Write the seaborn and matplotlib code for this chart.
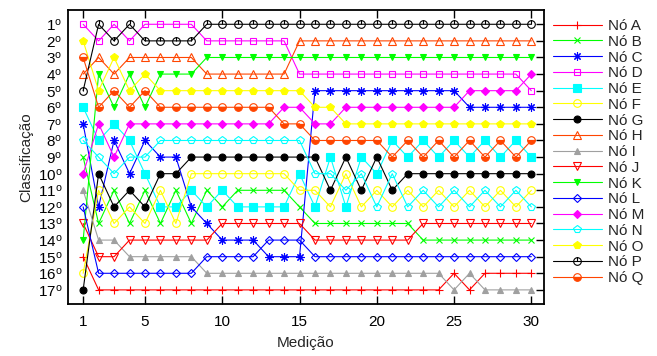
import matplotlib
matplotlib.use('Agg')
import matplotlib.pyplot as plt
from matplotlib.path import Path
import seaborn as sns

# ranking of each node at every measurement (1 = best)
medicao = list(range(1, 31))
no_a = [15, 17, 17, 17, 17, 17, 17, 17, 17, 17, 17, 17, 17, 17, 17, 17, 17, 17, 17, 17, 17, 17, 17, 17, 16, 17, 16, 16, 16, 16]
no_b = [9, 13, 11, 13, 11, 13, 11, 13, 11, 12, 11, 11, 11, 11, 12, 13, 13, 13, 13, 13, 13, 13, 14, 14, 14, 14, 14, 14, 14, 14]
no_c = [7, 12, 8, 10, 8, 9, 9, 12, 13, 14, 14, 14, 15, 15, 15, 5, 5, 5, 5, 5, 5, 5, 5, 5, 5, 6, 6, 6, 6, 6]
no_d = [1, 2, 1, 2, 1, 1, 1, 1, 2, 2, 2, 2, 2, 2, 4, 4, 4, 4, 4, 4, 4, 4, 4, 4, 4, 4, 4, 4, 4, 5]
no_e = [6, 8, 7, 8, 10, 12, 12, 11, 12, 11, 12, 12, 12, 12, 10, 12, 9, 12, 9, 10, 8, 9, 8, 9, 8, 9, 8, 9, 8, 9]
no_f = [16, 11, 13, 12, 13, 11, 13, 10, 10, 10, 10, 10, 10, 10, 11, 11, 12, 10, 12, 11, 12, 11, 12, 11, 12, 11, 12, 11, 12, 11]
no_g = [17, 10, 12, 11, 12, 10, 10, 9, 9, 9, 9, 9, 9, 9, 9, 9, 11, 9, 11, 9, 11, 10, 10, 10, 10, 10, 10, 10, 10, 10]
no_h = [4, 3, 4, 3, 3, 3, 3, 3, 4, 4, 4, 4, 4, 4, 2, 2, 2, 2, 2, 2, 2, 2, 2, 2, 2, 2, 2, 2, 2, 2]
no_i = [11, 14, 14, 15, 15, 15, 15, 15, 16, 16, 16, 16, 16, 16, 16, 16, 16, 16, 16, 16, 16, 16, 16, 16, 17, 16, 17, 17, 17, 17]
no_j = [13, 15, 15, 14, 14, 14, 14, 14, 14, 13, 13, 13, 13, 13, 13, 14, 14, 14, 14, 14, 14, 14, 13, 13, 13, 13, 13, 13, 13, 13]
no_k = [14, 4, 6, 4, 6, 4, 4, 4, 3, 3, 3, 3, 3, 3, 3, 3, 3, 3, 3, 3, 3, 3, 3, 3, 3, 3, 3, 3, 3, 3]
no_l = [12, 16, 16, 16, 16, 16, 16, 16, 15, 15, 15, 15, 14, 14, 14, 15, 15, 15, 15, 15, 15, 15, 15, 15, 15, 15, 15, 15, 15, 15]
no_m = [10, 7, 9, 7, 7, 7, 7, 7, 7, 7, 7, 7, 7, 6, 6, 7, 7, 6, 6, 6, 6, 6, 6, 6, 6, 5, 5, 5, 5, 4]
no_n = [8, 9, 10, 9, 9, 8, 8, 8, 8, 8, 8, 8, 8, 8, 8, 10, 10, 11, 10, 12, 10, 12, 11, 12, 11, 12, 11, 12, 11, 12]
no_o = [2, 5, 3, 5, 4, 5, 5, 5, 5, 5, 5, 5, 5, 5, 5, 6, 6, 7, 7, 7, 7, 7, 7, 7, 7, 7, 7, 7, 7, 7]
no_p = [5, 1, 2, 1, 2, 2, 2, 2, 1, 1, 1, 1, 1, 1, 1, 1, 1, 1, 1, 1, 1, 1, 1, 1, 1, 1, 1, 1, 1, 1]
no_q = [3, 6, 5, 6, 5, 6, 6, 6, 6, 6, 6, 6, 6, 7, 7, 8, 8, 8, 8, 8, 9, 8, 9, 8, 9, 8, 9, 8, 9, 8]

nomes = ['Nó A', 'Nó B', 'Nó C', 'Nó D', 'Nó E', 'Nó F', 'Nó G', 'Nó H', 'Nó I',
         'Nó J', 'Nó K', 'Nó L', 'Nó M', 'Nó N', 'Nó O', 'Nó P', 'Nó Q']
series = [no_a, no_b, no_c, no_d, no_e, no_f, no_g, no_h, no_i,
          no_j, no_k, no_l, no_m, no_n, no_o, no_p, no_q]
rotulos_y = ['%d$^{\\rm o}$' % i for i in range(1, 18)]

sns.set_style('ticks')
plt.rcParams['font.family'] = ['Liberation Sans', 'DejaVu Sans']
plt.rcParams['mathtext.fontset'] = 'custom'
plt.rcParams['mathtext.rm'] = 'Liberation Sans'
plt.rcParams['mathtext.it'] = 'Liberation Sans:italic'

# circle with a tick from the centre to the top (gnuplot-like point)
circ_tick = Path.make_compound_path(
    Path.unit_circle(), Path([[0, 0], [0, 1]], [Path.MOVETO, Path.LINETO]))

cores = ['#ff0000', '#00ff00', '#0000ff', '#ff00ff', '#00ffff', '#ffff00', '#000000',
         '#ff4500', '#a0a0a0', '#ff0000', '#00ff00', '#0000ff', '#ff00ff', '#00ffff',
         '#ffff00', '#000000', '#ff4500']
# (marker, fill, size)
marcadores = [('+', 'full', 6), ('x', 'full', 5), ((8, 2, 0), 'full', 6),
              ('s', 'none', 5), ('s', 'full', 5.5), ('o', 'none', 5.5),
              ('o', 'full', 5), ('^', 'none', 5.5), ('^', 'full', 5),
              ('v', 'none', 5.5), ('v', 'full', 5), ('D', 'none', 4),
              ('D', 'full', 4), ('p', 'none', 5.5), ('p', 'full', 5.5),
              (circ_tick, 'none', 5.5), ('o', 'bottom', 5.5)]

fig = plt.figure(figsize=(6.57, 3.56), dpi=100)
ax = fig.add_axes([67.7 / 657, 52 / 356, 476 / 657, 294 / 356])

for nome, y, cor, (m, fill, ms) in zip(nomes, series, cores, marcadores):
    kw = dict(marker=m, markersize=ms, markeredgewidth=0.8, markeredgecolor=cor,
              linewidth=0.8, color=cor, label=nome)
    if fill == 'none':
        kw['markerfacecolor'] = 'none'
    elif fill == 'bottom':
        kw['fillstyle'] = 'bottom'
        kw['markerfacecoloralt'] = 'none'
    sns.lineplot(x=medicao, y=y, ax=ax, **kw)

ax.set_xlim(0, 30.8)
ax.set_ylim(17.85, 0.14)
ax.set_xticks([1, 5, 10, 15, 20, 25, 30])
ax.set_yticks(range(1, 18))
ax.set_yticklabels(rotulos_y)
ax.tick_params(axis='x', direction='in', top=True, bottom=True, length=6, width=1,
               pad=8, labelsize=11, colors='black')
ax.tick_params(axis='y', direction='in', left=False, right=True, length=6, width=1,
               labelleft=True, pad=4, labelsize=11, colors='black')
for s in ax.spines.values():
    s.set_linewidth(1.3)
    s.set_color('black')

ax.set_xlabel('Medição', fontsize=11, labelpad=5)
ax.set_ylabel('Classificação', fontsize=11, labelpad=3)

ax.legend(loc='upper left', bbox_to_anchor=(553 / 657, 1 - 19 / 356),
          bbox_transform=fig.transFigure, frameon=False, fontsize=11,
          handlelength=3.2, handletextpad=0.4, labelspacing=0.115,
          borderpad=0, borderaxespad=0)

plt.savefig('out.png', dpi=100)
plt.close(fig)
